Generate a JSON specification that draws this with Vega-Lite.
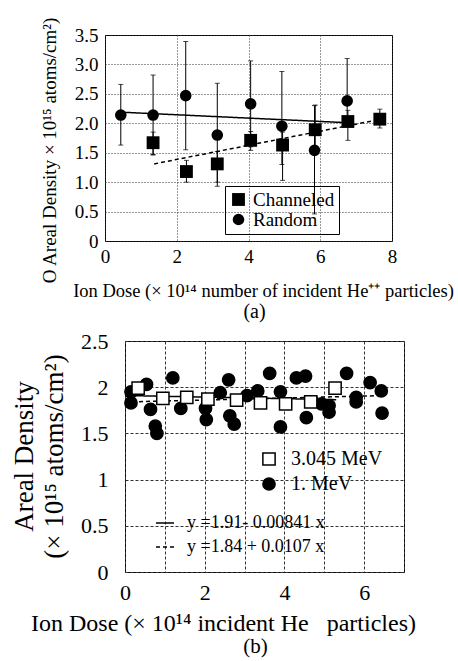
{
  "$schema": "https://vega.github.io/schema/vega-lite/v6.json",
  "padding": {"left": 2, "top": 16, "right": 0, "bottom": 0},
  "columns": 1,
  "spacing": 7,
  "resolve": {
    "scale": {"shape": "independent", "fill": "independent", "stroke": "independent", "strokeDash": "independent", "size": "independent"},
    "legend": {"shape": "independent", "fill": "independent", "stroke": "independent", "strokeDash": "independent", "size": "independent"}
  },
  "datasets": {
    "topPts": [
      {"series": "Random", "dose": 0.44, "val": 2.14, "lo": 1.63, "hi": 2.66},
      {"series": "Random", "dose": 1.34, "val": 2.14, "lo": 1.47, "hi": 2.82},
      {"series": "Random", "dose": 2.25, "val": 2.47, "lo": 1.55, "hi": 3.39},
      {"series": "Random", "dose": 3.13, "val": 1.80, "lo": 1.0, "hi": 2.68},
      {"series": "Random", "dose": 4.06, "val": 2.33, "lo": 1.6, "hi": 3.06},
      {"series": "Random", "dose": 4.93, "val": 1.95, "lo": 1.3, "hi": 2.88},
      {"series": "Random", "dose": 5.84, "val": 1.54, "lo": 0.46, "hi": 2.3},
      {"series": "Random", "dose": 6.75, "val": 2.38, "lo": 2.0, "hi": 3.1},
      {"series": "Channeled", "dose": 1.34, "val": 1.67, "lo": 1.46, "hi": 1.85},
      {"series": "Channeled", "dose": 2.27, "val": 1.18, "lo": 1.0, "hi": 1.37},
      {"series": "Channeled", "dose": 3.13, "val": 1.31, "lo": 0.93, "hi": 1.52},
      {"series": "Channeled", "dose": 4.06, "val": 1.71, "lo": 1.54, "hi": 1.86},
      {"series": "Channeled", "dose": 4.95, "val": 1.63, "lo": 1.03, "hi": 1.85},
      {"series": "Channeled", "dose": 5.86, "val": 1.89, "lo": 1.5, "hi": 2.31},
      {"series": "Channeled", "dose": 6.77, "val": 2.03, "lo": 1.71, "hi": 2.22},
      {"series": "Channeled", "dose": 7.66, "val": 2.07, "lo": 1.92, "hi": 2.24}
    ],
    "topFit": [
      {"fit": "Random", "dose": 0.4, "val": 2.19},
      {"fit": "Random", "dose": 6.75, "val": 2.01},
      {"fit": "Channeled", "dose": 1.37, "val": 1.31},
      {"fit": "Channeled", "dose": 7.7, "val": 2.07}
    ],
    "botPts": [
      {"series": "1. MeV", "dose": 0.15, "val": 1.95},
      {"series": "1. MeV", "dose": 0.15, "val": 1.83},
      {"series": "1. MeV", "dose": 0.54, "val": 2.03},
      {"series": "1. MeV", "dose": 0.64, "val": 1.76},
      {"series": "1. MeV", "dose": 0.76, "val": 1.58},
      {"series": "1. MeV", "dose": 0.8, "val": 1.5},
      {"series": "1. MeV", "dose": 1.2, "val": 2.1},
      {"series": "1. MeV", "dose": 1.4, "val": 1.77},
      {"series": "1. MeV", "dose": 2.02, "val": 1.77},
      {"series": "1. MeV", "dose": 2.04, "val": 1.65},
      {"series": "1. MeV", "dose": 2.39, "val": 1.94},
      {"series": "1. MeV", "dose": 2.6, "val": 2.08},
      {"series": "1. MeV", "dose": 2.63, "val": 1.69},
      {"series": "1. MeV", "dose": 2.74, "val": 1.6},
      {"series": "1. MeV", "dose": 3.06, "val": 1.91},
      {"series": "1. MeV", "dose": 3.33, "val": 1.96},
      {"series": "1. MeV", "dose": 3.63, "val": 2.15},
      {"series": "1. MeV", "dose": 3.9, "val": 1.95},
      {"series": "1. MeV", "dose": 3.9, "val": 1.57},
      {"series": "1. MeV", "dose": 4.3, "val": 2.1},
      {"series": "1. MeV", "dose": 4.53, "val": 2.12},
      {"series": "1. MeV", "dose": 4.55, "val": 1.67},
      {"series": "1. MeV", "dose": 4.93, "val": 1.82},
      {"series": "1. MeV", "dose": 5.12, "val": 1.8},
      {"series": "1. MeV", "dose": 5.12, "val": 1.73},
      {"series": "1. MeV", "dose": 5.56, "val": 2.15},
      {"series": "1. MeV", "dose": 5.8, "val": 1.89},
      {"series": "1. MeV", "dose": 5.8, "val": 1.84},
      {"series": "1. MeV", "dose": 6.15, "val": 2.05},
      {"series": "1. MeV", "dose": 6.43, "val": 1.96},
      {"series": "1. MeV", "dose": 6.45, "val": 1.72},
      {"series": "3.045 MeV", "dose": 0.33, "val": 1.99},
      {"series": "3.045 MeV", "dose": 0.95, "val": 1.88},
      {"series": "3.045 MeV", "dose": 1.55, "val": 1.89},
      {"series": "3.045 MeV", "dose": 2.08, "val": 1.87},
      {"series": "3.045 MeV", "dose": 2.8, "val": 1.86},
      {"series": "3.045 MeV", "dose": 3.4, "val": 1.83},
      {"series": "3.045 MeV", "dose": 4.03, "val": 1.82},
      {"series": "3.045 MeV", "dose": 4.66, "val": 1.84},
      {"series": "3.045 MeV", "dose": 5.27, "val": 1.99}
    ],
    "botFit": [
      {"fit": "y =1.91- 0.00841 x", "dose": 0, "val": 1.91},
      {"fit": "y =1.91- 0.00841 x", "dose": 5.3, "val": 1.865},
      {"fit": "y =1.84 + 0.0107 x", "dose": 0, "val": 1.84},
      {"fit": "y =1.84 + 0.0107 x", "dose": 6.45, "val": 1.909}
    ],
    "spacer": [{"k": 1}]
  },
  "concat": [
    {
      "spacing": 0,
      "resolve": {
        "scale": {"shape": "independent", "size": "independent", "strokeDash": "independent"},
        "legend": {"shape": "independent", "size": "independent", "strokeDash": "independent"}
      },
      "hconcat": [
        {
          "width": 34,
          "height": 10,
          "view": {"stroke": null},
          "data": {"name": "spacer"},
          "mark": {"type": "point", "opacity": 0}
        },
        {
          "width": 287,
          "height": 206,
          "title": {"text": "(a)", "orient": "bottom", "anchor": "middle", "frame": "group", "fontSize": 20, "dx": 6, "offset": 2},
          "layer": [
            {
              "data": {"name": "topFit"},
              "mark": {"type": "line", "color": "black", "strokeWidth": 1.5},
              "encoding": {
                "x": {
                  "field": "dose", "type": "quantitative",
                  "scale": {"domain": [0, 8], "nice": false, "zero": false},
                  "axis": {
                    "values": [0, 2, 4, 6, 8],
                    "labelFontSize": 19, "labelPadding": 6,
                    "grid": true, "gridColor": "#333", "gridDash": [1, 2], "gridWidth": 1,
                    "title": "Ion Dose (× 10¹⁴ number of incident He⁺⁺ particles)",
                    "titleFontSize": 18.5, "titleX": 158, "titleY": 55,
                    "titleBaseline": "alphabetic", "titleAlign": "center"
                  }
                },
                "y": {
                  "field": "val", "type": "quantitative",
                  "scale": {"domain": [0, 3.5], "nice": false},
                  "axis": {
                    "values": [0, 0.5, 1, 1.5, 2, 2.5, 3, 3.5],
                    "labelExpr": "datum.value == 0 ? '0' : format(datum.value, '.1f')",
                    "labelFontSize": 19, "labelPadding": 7,
                    "grid": true, "gridColor": "#333", "gridDash": [1, 2], "gridWidth": 1,
                    "title": "O Areal Density × 10¹⁵ atoms/cm²)",
                    "titleFontSize": 19, "titleX": -50, "titleY": 115,
                    "titleAngle": 270, "titleBaseline": "alphabetic", "titleAlign": "center"
                  }
                },
                "strokeDash": {
                  "field": "fit", "type": "nominal",
                  "scale": {"domain": ["Random", "Channeled"], "range": [[1, 0], [4, 3]]},
                  "legend": null
                }
              }
            },
            {
              "data": {"name": "topPts"},
              "mark": {"type": "errorbar", "color": "black", "ticks": {"size": 5, "color": "black"}, "rule": {"color": "black", "strokeWidth": 1}},
              "encoding": {
                "x": {
                  "field": "dose", "type": "quantitative",
                  "scale": {"domain": [0, 8], "nice": false, "zero": false},
                  "axis": {
                    "values": [0, 2, 4, 6, 8],
                    "labelFontSize": 19, "labelPadding": 6,
                    "grid": true, "gridColor": "#333", "gridDash": [1, 2], "gridWidth": 1,
                    "title": "Ion Dose (× 10¹⁴ number of incident He⁺⁺ particles)",
                    "titleFontSize": 18.5, "titleX": 158, "titleY": 55,
                    "titleBaseline": "alphabetic", "titleAlign": "center"
                  }
                },
                "y": {
                  "field": "lo", "type": "quantitative",
                  "scale": {"domain": [0, 3.5], "nice": false},
                  "axis": {
                    "values": [0, 0.5, 1, 1.5, 2, 2.5, 3, 3.5],
                    "labelExpr": "datum.value == 0 ? '0' : format(datum.value, '.1f')",
                    "labelFontSize": 19, "labelPadding": 7,
                    "grid": true, "gridColor": "#333", "gridDash": [1, 2], "gridWidth": 1,
                    "title": "O Areal Density × 10¹⁵ atoms/cm²)",
                    "titleFontSize": 19, "titleX": -50, "titleY": 115,
                    "titleAngle": 270, "titleBaseline": "alphabetic", "titleAlign": "center"
                  }
                },
                "y2": {"field": "hi"}
              }
            },
            {
              "data": {"name": "topPts"},
              "mark": {"type": "point", "filled": true, "color": "black", "opacity": 1},
              "encoding": {
                "x": {
                  "field": "dose", "type": "quantitative",
                  "scale": {"domain": [0, 8], "nice": false, "zero": false},
                  "axis": {
                    "values": [0, 2, 4, 6, 8],
                    "labelFontSize": 19, "labelPadding": 6,
                    "grid": true, "gridColor": "#333", "gridDash": [1, 2], "gridWidth": 1,
                    "title": "Ion Dose (× 10¹⁴ number of incident He⁺⁺ particles)",
                    "titleFontSize": 18.5, "titleX": 158, "titleY": 55,
                    "titleBaseline": "alphabetic", "titleAlign": "center"
                  }
                },
                "y": {
                  "field": "val", "type": "quantitative",
                  "scale": {"domain": [0, 3.5], "nice": false},
                  "axis": {
                    "values": [0, 0.5, 1, 1.5, 2, 2.5, 3, 3.5],
                    "labelExpr": "datum.value == 0 ? '0' : format(datum.value, '.1f')",
                    "labelFontSize": 19, "labelPadding": 7,
                    "grid": true, "gridColor": "#333", "gridDash": [1, 2], "gridWidth": 1,
                    "title": "O Areal Density × 10¹⁵ atoms/cm²)",
                    "titleFontSize": 19, "titleX": -50, "titleY": 115,
                    "titleAngle": 270, "titleBaseline": "alphabetic", "titleAlign": "center"
                  }
                },
                "shape": {
                  "field": "series", "type": "nominal",
                  "scale": {"domain": ["Channeled", "Random"], "range": ["square", "circle"]},
                  "legend": {
                    "title": null, "orient": "none", "legendX": 120, "legendY": 151,
                    "strokeColor": "black", "padding": 4, "labelFontSize": 19,
                    "symbolFillColor": "black", "symbolStrokeColor": "black",
                    "symbolOpacity": 1, "rowPadding": 0, "labelOffset": 5
                  }
                },
                "size": {
                  "field": "series", "type": "nominal",
                  "scale": {"domain": ["Channeled", "Random"], "range": [165, 135]},
                  "legend": {
                    "title": null, "orient": "none", "legendX": 120, "legendY": 151,
                    "strokeColor": "black", "padding": 4, "labelFontSize": 19,
                    "symbolFillColor": "black", "symbolStrokeColor": "black",
                    "symbolOpacity": 1, "rowPadding": 0, "labelOffset": 5
                  }
                }
              }
            }
          ]
        }
      ]
    },
    {
      "spacing": 0,
      "resolve": {
        "scale": {"shape": "independent", "fill": "independent", "stroke": "independent", "strokeDash": "independent"},
        "legend": {"shape": "independent", "fill": "independent", "stroke": "independent", "strokeDash": "independent"}
      },
      "hconcat": [
        {
          "width": 1,
          "height": 10,
          "view": {"stroke": null},
          "data": {"name": "spacer"},
          "mark": {"type": "point", "opacity": 0}
        },
        {
          "width": 279,
          "height": 231,
          "title": {"text": "(b)", "orient": "bottom", "anchor": "middle", "frame": "group", "fontSize": 21, "dx": -9, "offset": 1},
          "layer": [
            {
              "data": {"name": "botFit"},
              "mark": {"type": "line", "color": "black", "strokeWidth": 1.5},
              "encoding": {
                "x": {
                  "field": "dose", "type": "quantitative",
                  "scale": {"domain": [0, 7], "nice": false, "zero": false},
                  "axis": {
                    "values": [0, 1, 2, 3, 4, 5, 6, 7],
                    "labelExpr": "datum.value % 2 == 0 ? datum.label : ''",
                    "labelFontSize": 22, "labelPadding": 10,
                    "grid": true, "gridColor": "#333", "gridDash": [3, 2], "gridWidth": 1,
                    "title": "Ion Dose (× 10¹⁴ incident He\u00a0\u00a0\u00a0particles)",
                    "titleFontSize": 24, "titleX": 98, "titleY": 58,
                    "titleBaseline": "alphabetic", "titleAlign": "center"
                  }
                },
                "y": {
                  "field": "val", "type": "quantitative",
                  "scale": {"domain": [0, 2.5], "nice": false},
                  "axis": {
                    "values": [0, 0.5, 1, 1.5, 2, 2.5],
                    "format": "~g",
                    "labelFontSize": 22, "labelPadding": 17,
                    "grid": true, "gridColor": "#333", "gridDash": [3, 2], "gridWidth": 1,
                    "title": ["Areal Density", "(× 10¹⁵ atoms/cm²)"],
                    "titleFontSize": 27, "titleLineHeight": 30, "titleX": -93, "titleY": 115,
                    "titleAngle": 270, "titleBaseline": "alphabetic", "titleAlign": "center"
                  }
                },
                "strokeDash": {
                  "field": "fit", "type": "nominal",
                  "scale": {"domain": ["y =1.91- 0.00841 x", "y =1.84 + 0.0107 x"], "range": [[1, 0], [4, 3]]},
                  "legend": {
                    "title": null, "orient": "none", "legendX": 30, "legendY": 172,
                    "symbolType": "stroke", "symbolSize": 324, "symbolStrokeColor": "black",
                    "symbolStrokeWidth": 1.5, "labelFontSize": 18, "labelOffset": 12,
                    "rowPadding": 5, "padding": 0
                  }
                }
              }
            },
            {
              "data": {"name": "botPts"},
              "mark": {"type": "point", "filled": true, "strokeWidth": 1.5, "opacity": 1, "size": 150},
              "encoding": {
                "x": {
                  "field": "dose", "type": "quantitative",
                  "scale": {"domain": [0, 7], "nice": false, "zero": false},
                  "axis": {
                    "values": [0, 1, 2, 3, 4, 5, 6, 7],
                    "labelExpr": "datum.value % 2 == 0 ? datum.label : ''",
                    "labelFontSize": 22, "labelPadding": 10,
                    "grid": true, "gridColor": "#333", "gridDash": [3, 2], "gridWidth": 1,
                    "title": "Ion Dose (× 10¹⁴ incident He\u00a0\u00a0\u00a0particles)",
                    "titleFontSize": 24, "titleX": 98, "titleY": 58,
                    "titleBaseline": "alphabetic", "titleAlign": "center"
                  }
                },
                "y": {
                  "field": "val", "type": "quantitative",
                  "scale": {"domain": [0, 2.5], "nice": false},
                  "axis": {
                    "values": [0, 0.5, 1, 1.5, 2, 2.5],
                    "format": "~g",
                    "labelFontSize": 22, "labelPadding": 17,
                    "grid": true, "gridColor": "#333", "gridDash": [3, 2], "gridWidth": 1,
                    "title": ["Areal Density", "(× 10¹⁵ atoms/cm²)"],
                    "titleFontSize": 27, "titleLineHeight": 30, "titleX": -93, "titleY": 115,
                    "titleAngle": 270, "titleBaseline": "alphabetic", "titleAlign": "center"
                  }
                },
                "shape": {
                  "field": "series", "type": "nominal",
                  "scale": {"domain": ["3.045 MeV", "1. MeV"], "range": ["square", "circle"]},
                  "legend": {
                    "title": null, "orient": "none", "legendX": 134, "legendY": 108,
                    "labelFontSize": 20, "symbolSize": 150,
                    "symbolStrokeWidth": 1.5, "rowPadding": 5, "labelOffset": 12, "padding": 0
                  }
                },
                "fill": {
                  "field": "series", "type": "nominal",
                  "scale": {"domain": ["3.045 MeV", "1. MeV"], "range": ["white", "black"]},
                  "legend": {
                    "title": null, "orient": "none", "legendX": 134, "legendY": 108,
                    "labelFontSize": 20, "symbolSize": 150,
                    "symbolStrokeWidth": 1.5, "rowPadding": 5, "labelOffset": 12, "padding": 0
                  }
                },
                "stroke": {
                  "field": "series", "type": "nominal",
                  "scale": {"domain": ["3.045 MeV", "1. MeV"], "range": ["black", "black"]},
                  "legend": {
                    "title": null, "orient": "none", "legendX": 134, "legendY": 108,
                    "labelFontSize": 20, "symbolSize": 150,
                    "symbolStrokeWidth": 1.5, "rowPadding": 5, "labelOffset": 12, "padding": 0
                  }
                }
              }
            }
          ]
        }
      ]
    }
  ],
  "config": {
    "font": "Liberation Serif",
    "view": {"stroke": "black", "strokeWidth": 1},
    "axis": {
      "labelFont": "Liberation Serif", "titleFont": "Liberation Serif",
      "labelColor": "black", "titleColor": "black", "titleFontWeight": "normal",
      "labelFlush": false, "labelOverlap": false, "ticks": false, "domain": false,
      "gridOpacity": 1
    },
    "legend": {"labelFont": "Liberation Serif", "labelColor": "black", "labelLimit": 400},
    "title": {"font": "Liberation Serif", "fontWeight": "normal", "color": "black"}
  }
}
